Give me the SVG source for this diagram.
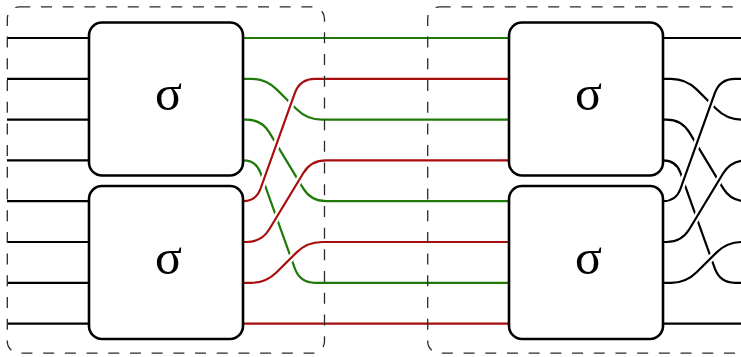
<svg xmlns="http://www.w3.org/2000/svg" width="741" height="357" viewBox="0 0 741 357">
  <style>
    .w { fill: none; stroke-width: 2.2; }
    .g { stroke: #1f7a0a; }
    .r { stroke: #a80d0d; }
    .k { stroke: #000; }
    .halo { fill: none; stroke: #fff; stroke-width: 7; }
    .box { fill: #fff; stroke: #000; stroke-width: 2.6; }
    .frame { fill: none; stroke: #2a2a2a; stroke-width: 1.3; stroke-dasharray: 11 10.7; }
    .sig { font-family: "Liberation Serif", "DejaVu Serif", serif; font-size: 50px; text-anchor: middle; fill: #000; }
  </style>
  <defs>
    <!-- shuffle wires from the upper block (pass underneath) -->
    <path id="u2" d="M243,78.8 H251 Q266,78.8 276.6,89.4 L296.4,109 Q307,119.6 322,119.6 H510"/>
    <path id="u3" d="M243,119.6 H246.5 Q261.5,119.6 269.3,132.4 L303.2,188.4 Q311,201.2 326,201.2 H510"/>
    <path id="u4" d="M243,160.4 Q256,160.4 260.4,172.6 L294.9,268.7 Q300,282.8 315,282.8 H510"/>
    <!-- shuffle wires from the lower block (pass over) -->
    <path id="l1" d="M243,201.2 Q256,201.2 260.4,189 L294.9,92.9 Q300,78.8 315,78.8 H510"/>
    <path id="l2" d="M243,242 H246.5 Q261.5,242 269.3,229.2 L303.2,173.2 Q311,160.4 326,160.4 H510"/>
    <path id="l3" d="M243,282.8 H251 Q266,282.8 276.6,272.2 L296.4,252.6 Q307,242 322,242 H510"/>
  </defs>

  <g id="connectors">
    <!-- inputs -->
    <path class="w k" d="M7,38H90 M7,78.8H90 M7,119.6H90 M7,160.4H90 M7,201.2H90 M7,242H90 M7,282.8H90 M7,323.6H90"/>

    <!-- first shuffle, coloured -->
    <path class="w g" d="M243,38 H510"/>
    <use href="#u2" class="w g"/>
    <use href="#u3" class="w g"/>
    <use href="#u4" class="w g"/>
    <use href="#l1" class="halo"/>
    <use href="#l1" class="w r"/>
    <use href="#l2" class="halo"/>
    <use href="#l2" class="w r"/>
    <use href="#l3" class="halo"/>
    <use href="#l3" class="w r"/>
    <path class="w r" d="M243,323.6 H510"/>

    <!-- second shuffle, black -->
    <g transform="translate(420,0)">
      <path class="w k" d="M243,38 H330 M243,323.6 H330"/>
      <use href="#u2" class="w k"/>
      <use href="#u3" class="w k"/>
      <use href="#u4" class="w k"/>
      <use href="#l1" class="halo"/>
      <use href="#l1" class="w k"/>
      <use href="#l2" class="halo"/>
      <use href="#l2" class="w k"/>
      <use href="#l3" class="halo"/>
      <use href="#l3" class="w k"/>
    </g>
  </g>

  <g id="sigma-1a">
    <rect class="box" x="89" y="22.5" width="154" height="153" rx="13"/>
    <text class="sig" x="168.5" y="109.5">σ</text>
  </g>
  <g id="sigma-1b">
    <rect class="box" x="89" y="186" width="154" height="153" rx="13"/>
    <text class="sig" x="168.5" y="273.5">σ</text>
  </g>
  <g id="sigma-2a">
    <rect class="box" x="509" y="22.5" width="154" height="153" rx="13"/>
    <text class="sig" x="588.5" y="109.5">σ</text>
  </g>
  <g id="sigma-2b">
    <rect class="box" x="509" y="186" width="154" height="153" rx="13"/>
    <text class="sig" x="588.5" y="273.5">σ</text>
  </g>

  <g id="stage-1">
    <rect class="frame" x="7.3" y="6.8" width="317.2" height="346.4" rx="12"/>
  </g>
  <g id="stage-2">
    <rect class="frame" x="427.7" y="6.8" width="317.2" height="346.4" rx="12"/>
  </g>
</svg>
